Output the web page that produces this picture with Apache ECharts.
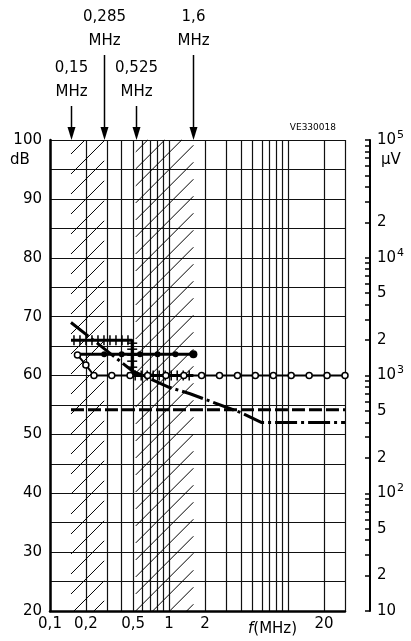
<!DOCTYPE html>
<html><head><meta charset="utf-8">
<script src="https://cdn.jsdelivr.net/npm/echarts@6/dist/echarts.min.js"></script>
<style>html,body{margin:0;padding:0;background:#fff}#c{width:411px;height:641px}</style>
</head><body><div id="c"></div>
<script>
// ---- data ----
const freqGrid = [0.1,0.2,0.3,0.4,0.5,0.6,0.7,0.8,0.9,1,2,3,4,5,6,7,8,9,10,20,30];
const freqLabels = [0.1,0.2,0.5,1,2,20];
const uvTicks = [10,20,30,40,50,60,70,80,90,100,200,300,400,500,600,700,800,900,1000,2000,3000,4000,5000,6000,7000,8000,9000,10000,20000,30000,40000,50000,60000,70000,80000,90000,100000];
const uvLabels = [10,20,50,100,200,500,1000,2000,5000,10000,20000,100000];

const bandLow = [0.15,0.525];
const bandHigh = [0.285,1.6];
const arrowF = [0.15,0.285,0.525,1.6];
const arrowText = ['0,15','0,285','0,525','1,6'];

const openF  = [0.17,0.2,0.234,0.33,0.47,0.66,0.94,1.33,1.875,2.65,3.75,5.3,7.5,10.6,15,21.2,30];
const openDb = [63.5,61.8,60,60,60,60,60,60,60,60,60,60,60,60,60,60,60];

const dotF  = [0.175,0.285,0.4,0.57,0.8,1.13,1.6];
const dotDb = [63.6,63.6,63.6,63.6,63.6,63.6,63.6];

const tickF  = [0.15,0.49,0.49,1.6];
const tickDb = [66,66,60,60];

const dashDotF  = [0.15,0.49,1.0,1.5,4,6,30];
const dashDotDb = [69,60.8,58,56.9,53.7,52,52];

const dashF  = [0.15,30];
const dashDb = [54.2,54.2];

// ---- helpers ----
const dB = uv => 20*Math.log10(uv);
const pair = (xs, ys) => xs.map((x,i)=>[x, ys[i]]);
const FONT = 'DejaVu Sans';

const chart = echarts.init(document.getElementById('c'));

function hatchItem(params, api){
  const p1 = api.coord([api.value(0), 100]);
  const p2 = api.coord([api.value(1), 20]);
  const x1 = p1[0], x2 = p2[0], yT = p1[1], yB = p2[1];
  const w = x2 - x1;
  const step = params.dataIndex === 0 ? 20 : 17;
  const children = [];
  for (let c = yT + step*0.7; c < yB + w; c += step){
    let ax = x1, ay = c, bx = x2, by = c - w;
    if (ay > yB){ ax += ay - yB; ay = yB; }
    if (by < yT){ bx -= yT - by; by = yT; }
    if (ax >= bx) continue;
    children.push({type:'line', shape:{x1:ax,y1:ay,x2:bx,y2:by}, style:{stroke:'#000', lineWidth:1}});
  }
  return {type:'group', children};
}

function arrowItem(params, api){
  const i = params.dataIndex;
  const p = api.coord([api.value(0), 100]);
  const len = (i % 2) ? 85 : 34;
  const x = Math.round(p[0]) + 0.5, y = p[1];
  return {type:'group', children:[
    {type:'line', shape:{x1:x, y1:y-len, x2:x, y2:y-10}, style:{stroke:'#000', lineWidth:1.5}},
    {type:'polygon', shape:{points:[[x-4,y-13],[x+4,y-13],[x,y]]}, style:{fill:'#000'}},
    {type:'text', x:x, y:y-len-2, style:{text:arrowText[i]+'\nMHz', fill:'#000', font:'15px '+FONT,
      lineHeight:24, align:'center', verticalAlign:'bottom', textAlign:'center', textVerticalAlign:'bottom'}}
  ]};
}

function tickItem(params, api){
  const i = params.dataIndex;
  if (i >= tickF.length - 1) return null;
  const a = api.coord([tickF[i], tickDb[i]]);
  const b = api.coord([tickF[i+1], tickDb[i+1]]);
  const dx = b[0]-a[0], dy = b[1]-a[1];
  const len = Math.hypot(dx, dy);
  if (len < 1) return null;
  const ux = dx/len, uy = dy/len, px = -uy, py = ux;
  const children = [];
  for (let s = 3; s < len - 1; s += 6){
    const cx = a[0] + ux*s, cy = a[1] + uy*s;
    children.push({type:'line', shape:{x1:cx-px*5, y1:cy-py*5, x2:cx+px*5, y2:cy+py*5}, style:{stroke:'#000', lineWidth:1.5}});
  }
  return {type:'group', children};
}

function uvFormat(v){
  const uv = Math.pow(10, v/20);
  const e = Math.floor(Math.log10(uv) + 1e-9);
  const m = Math.round(uv / Math.pow(10, e));
  if (m === 1) return e === 1 ? '10' : '10{s|' + e + '}';
  return String(m);
}

const option = {
  animation: false,
  backgroundColor: '#fff',
  grid: {left: 50, right: 66, top: 140, bottom: 30},
  xAxis: {
    type: 'log', logBase: 10, min: 0.1, max: 30,
    axisLine: {show: true, onZero: false, lineStyle: {color: '#000', width: 2.5}},
    axisTick: {show: false, customValues: freqGrid},
    splitLine: {show: true, lineStyle: {color: '#111', width: 1.2}},
    axisLabel: {customValues: freqLabels, color: '#000', fontFamily: FONT, fontSize: 15, margin: 6,
      formatter: v => String(+(+v).toPrecision(3)).replace('.', ',')}
  },
  yAxis: [{
    type: 'value', min: 20, max: 100, interval: 5,
    axisLine: {show: true, lineStyle: {color: '#000', width: 2.5}},
    axisTick: {show: false},
    splitLine: {show: true, lineStyle: {color: '#111', width: 1.2}},
    axisLabel: {color: '#000', fontFamily: FONT, fontSize: 15, margin: 8,
      formatter: v => (v % 10 === 0 ? String(v) : '')}
  }, {
    type: 'value', min: 20, max: 100, position: 'right', offset: 25,
    axisLine: {show: true, lineStyle: {color: '#000', width: 2}},
    axisTick: {show: true, inside: true, length: 5, customValues: uvTicks.map(dB), lineStyle: {color: '#000', width: 1.5}},
    splitLine: {show: false},
    axisLabel: {customValues: uvLabels.map(dB), color: '#000', fontFamily: FONT, fontSize: 15, margin: 7,
      formatter: uvFormat,
      rich: {s: {fontSize: 11, fontFamily: FONT, color: '#000', verticalAlign: 'top', padding: [0,0,10,1]}}}
  }],
  graphic: [
    {type: 'text', left: 10, top: 153, style: {text: 'dB', font: '15px ' + FONT, fill: '#000'}},
    {type: 'text', left: 381, top: 153, style: {text: 'µV', font: '15px ' + FONT, fill: '#000'}},
    {type: 'text', right: 75, top: 123, style: {text: 'VE330018', font: '9px ' + FONT, fill: '#000'}},
    {type: 'text', left: 248, top: 622, style: {text: '{i|f}(MHz)', font: '15px ' + FONT, fill: '#000',
      rich: {i: {fontStyle: 'italic', font: 'italic 15px ' + FONT, fill: '#000'}}}}
  ],
  series: [
    {type: 'custom', renderItem: hatchItem, silent: true, z: 1,
      encode: {x: [0, 1], y: [2, 3]},
      data: bandLow.map((f, i) => [f, bandHigh[i], 20, 100])},
    {type: 'custom', renderItem: arrowItem, silent: true, clip: false, z: 5,
      encode: {x: 0, y: 1},
      data: arrowF.map(f => [f, 100])},
    {type: 'line', data: pair(dashF, dashDb), symbol: 'none', z: 3,
      lineStyle: {color: '#000', width: 3, type: [13, 4]}},
    {type: 'line', data: pair(dashDotF, dashDotDb), symbol: 'none', z: 3,
      lineStyle: {color: '#000', width: 3, type: [22, 4, 3, 4]}},
    {type: 'line', data: pair(tickF, tickDb), symbol: 'none', z: 3,
      lineStyle: {color: '#000', width: 3}},
    {type: 'custom', renderItem: tickItem, silent: true, z: 3,
      encode: {x: 0, y: 1}, data: pair(tickF, tickDb)},
    {type: 'line', data: pair(dotF, dotDb), z: 4,
      symbol: 'circle', symbolSize: (v, p) => (p.dataIndex === 0 ? 0 : (p.dataIndex === dotF.length - 1 ? 8 : 6)),
      itemStyle: {color: '#000'}, lineStyle: {color: '#000', width: 3}},
    {type: 'line', data: pair(openF, openDb), z: 4, clip: false,
      symbol: 'circle', symbolSize: 6,
      itemStyle: {color: '#fff', borderColor: '#000', borderWidth: 1.5},
      lineStyle: {color: '#000', width: 2}}
  ]
};
chart.setOption(option);
</script>
</body></html>
